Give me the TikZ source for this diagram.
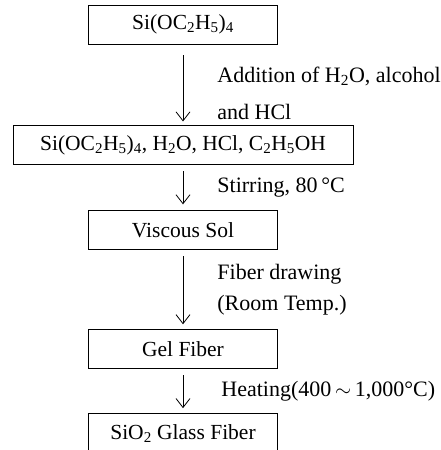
\documentclass[tikz,border=0pt]{standalone}
\usepackage{fontspec}
\setmainfont{Liberation Serif}
\usepackage{xcolor}
\colorlet{colorBox}{black}
\colorlet{colorStep}{black}
\usepackage{tikz}
\usetikzlibrary{arrows.meta, positioning}
\tikzset{box/.style={draw=colorBox, line width=0.9pt, minimum width=189pt, minimum height=39pt, inner sep=0pt, font=\fontsize{21.5}{25}\selectfont}}
\tikzset{steptext/.style={right=34pt, inner sep=0pt, align=left, font=\fontsize{22}{31}\selectfont}}

\begin{document}
\begin{tikzpicture}[>={Straight Barb[length=9pt, width=14pt]}, line width=0.8pt]
\useasboundingbox (0,0) rectangle (441pt,-450pt);
\node[box] (q0) at (183pt,-24.5pt) {Si(OC\textsubscript{2}H\textsubscript{5})\textsubscript{4}};
\node[box, minimum width=340pt, below=81pt of q0] (q1) {Si(OC\textsubscript{2}H\textsubscript{5})\textsubscript{4}, H\textsubscript{2}O, HCl, C\textsubscript{2}H\textsubscript{5}OH};
\node[box, below=45pt of q1] (q2) {Viscous Sol};
\node[box, below=79pt of q2] (q3) {Gel Fiber};
\node[box, below=44pt of q3] (q4) {SiO\textsubscript{2} Glass Fiber};
\draw [->, colorStep] (q0) edge [shorten <=11pt, shorten >=4pt] node [steptext, yshift=-8pt]{Addition of H\textsubscript{2}O, alcohol\\[6pt]and HCl} (q1);
\draw [->, colorStep] (q1) edge [shorten <=6pt, shorten >=6pt] node [steptext]{Stirring, 80\,°C} (q2);
\draw [->, colorStep] (q2) edge [shorten <=6pt, shorten >=5pt] node [steptext]{Fiber drawing\\(Room Temp.)} (q3);
\draw [->, colorStep] (q3) edge [shorten <=6pt, shorten >=5pt] node [steptext, xshift=4pt]{Heating(400\,$\sim$\,1,000°C)} (q4);
\end{tikzpicture}
\end{document}
